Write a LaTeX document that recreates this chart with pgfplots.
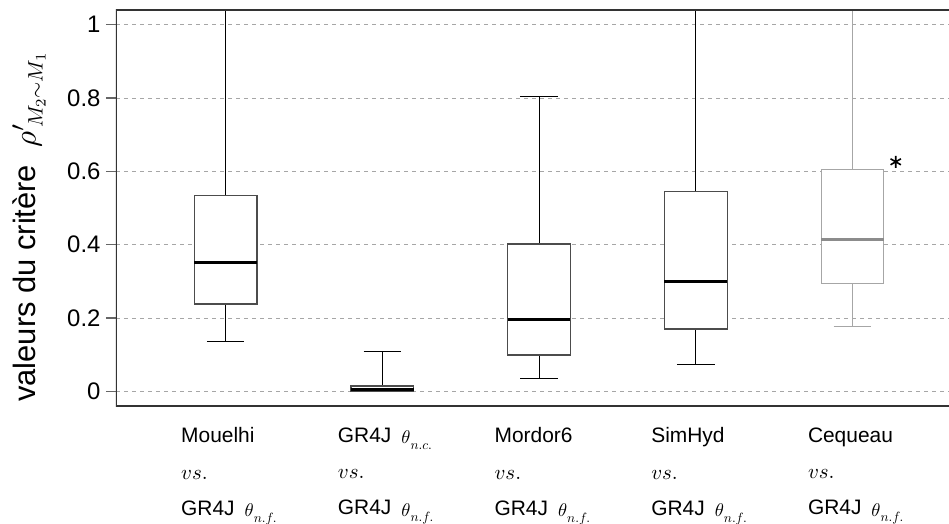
\documentclass[border=0pt]{standalone}
\usepackage{graphicx}
\usepackage{pgfplots}
\pgfplotsset{compat=1.18}
\usepgfplotslibrary{statistics}
\usepackage{fontspec}
\setmainfont{Liberation Sans}
\newcommand{\mth}[2]{\scalebox{#1}{\fontsize{10}{12}\selectfont$#2$}}
\newcommand{\sub}[1]{\hspace{10bp}\raisebox{-1.5bp}{\mth{1.85}{\theta}}\raisebox{-7bp}{\mth{1.35}{#1}}}
\newcommand{\vs}{\mth{2.1}{vs.}}
\begin{document}
\begin{tikzpicture}
\begin{axis}[
  scale only axis, width=833bp, height=396bp,
  xmin=-0.7, xmax=4.616, ymin=-0.04, ymax=1.04,
  axis line style={draw=none},
  xtick={0,1,2,3,4},
  xticklabels={
    {Mouelhi\\\vs\\GR4J\sub{n.f.}},
    {GR4J\sub{n.c.}\\\vs\\GR4J\sub{n.f.}},
    {Mordor6\\\vs\\GR4J\sub{n.f.}},
    {SimHyd\\\vs\\GR4J\sub{n.f.}},
    {Cequeau\\\vs\\GR4J\sub{n.f.}}},
  xtick style={draw=none},
  xticklabel style={align=left, anchor=north west, xshift=-48bp, yshift=-8bp,
    font=\fontsize{21}{36.5}\selectfont},
  ytick={0,0.2,0.4,0.6,0.8,1},
  yticklabels={0,0.2,0.4,0.6,0.8,1},
  ytick pos=left,
  tick align=outside, major tick length=10bp,
  ytick style={black!60, line width=1.2bp},
  yticklabel style={font=\fontsize{24}{28}\selectfont, xshift=-2bp},
  ymajorgrids,
  major grid style={black!35, dash pattern=on 4bp off 4bp, line width=0.9bp},
  ylabel={valeurs du critère\; \mth{3.1}{\rho'}\kern-5bp\raisebox{-7bp}{\mth{2.1}{M_2{\sim}M_1}}},
  every axis y label/.style={at={(axis description cs:-0.1044,0.452)}, rotate=90, anchor=center,
    font=\fontsize{31}{34}\selectfont},
  boxplot/draw direction=y,
  boxplot/box extend=0.4,
  boxplot/whisker extend=0.24,
  boxplot/every box/.style={draw=black!70, line width=1.2bp},
  boxplot/every median/.style={line width=2.8bp},
]
\addplot[boxplot prepared={draw position=0, lower whisker=0.137, lower quartile=0.238,
  median=0.352, upper quartile=0.533, upper whisker=1.2}, draw=black, fill=white, line width=1bp] coordinates {};
\addplot[boxplot prepared={draw position=1, lower whisker=0.0, lower quartile=0.001,
  median=0.004, upper quartile=0.0145, upper whisker=0.108}, draw=black, fill=white, line width=1bp] coordinates {};
\addplot[boxplot prepared={draw position=2, lower whisker=0.035, lower quartile=0.099,
  median=0.197, upper quartile=0.402, upper whisker=0.803}, draw=black, fill=white, line width=1bp] coordinates {};
\addplot[boxplot prepared={draw position=3, lower whisker=0.072, lower quartile=0.170,
  median=0.300, upper quartile=0.544, upper whisker=1.2}, draw=black, fill=white, line width=1bp] coordinates {};
\addplot[boxplot/every box/.style={draw=black!35, line width=1.2bp},
  boxplot/every median/.style={draw=black!45, line width=2.8bp},
  boxplot prepared={draw position=4, lower whisker=0.177, lower quartile=0.295,
  median=0.415, upper quartile=0.604, upper whisker=1.2}, draw=black!35, fill=white, line width=1bp] coordinates {};
\addplot[only marks, mark=asterisk, mark size=6bp, line width=1.6bp, black] coordinates {(4.276,0.626)};
\draw[black!80, line width=1.2bp] (rel axis cs:1,1) -- (rel axis cs:0,1) -- (rel axis cs:0,0) -- (rel axis cs:1,0);
\end{axis}
\pgfresetboundingbox
\path[use as bounding box] (-116bp,-118bp) rectangle (833bp,406bp);
\end{tikzpicture}
\end{document}
